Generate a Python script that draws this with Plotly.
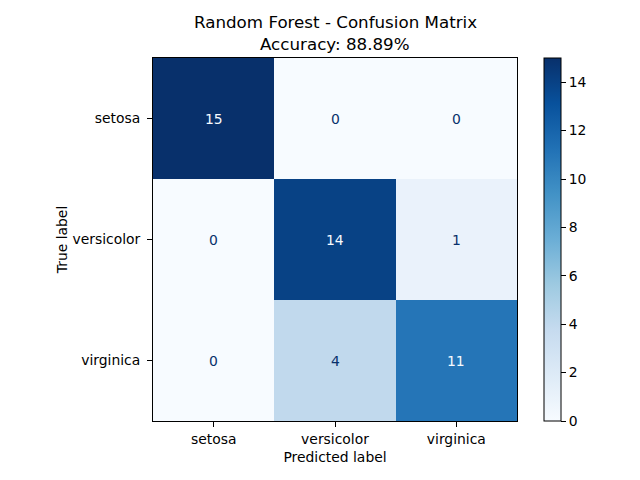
import plotly.graph_objects as go

labels = ["setosa", "versicolor", "virginica"]
matrix = [[15, 0, 0],
          [0, 14, 1],
          [0, 4, 11]]
title_lines = ["Random Forest - Confusion Matrix", "Accuracy: 88.89%"]
cbar_ticks = [0, 2, 4, 6, 8, 10, 12, 14]

blues = ["#f7fbff", "#deebf7", "#c6dbef", "#9ecae1", "#6baed6",
         "#4292c6", "#2171b5", "#08519c", "#08306b"]
colorscale = [[i / (len(blues) - 1), c] for i, c in enumerate(blues)]

vmin = min(min(r) for r in matrix)
vmax = max(max(r) for r in matrix)
thresh = (vmax + vmin) / 2

font = "DejaVu Sans"
OFF = 8  # page body margin offset
W, H = 640, 480
L, T = 153 - OFF, 58 - OFF
R = W - (517 - OFF)
B = H - (421 - OFF)
ph = H - T - B
pw = W - L - R

fig = go.Figure()
fig.add_trace(go.Heatmap(
    z=matrix, x=labels, y=labels, colorscale=colorscale,
    zmin=vmin, zmax=vmax, showscale=True,
    colorbar=dict(thickness=17, len=1, lenmode="fraction", x=(544 - OFF - L) / pw, xanchor="left",
                  xpad=0, ypad=0,
                  y=0.5, yanchor="middle", outlinecolor="black", outlinewidth=1,
                  tickvals=cbar_ticks, ticks="outside", ticklen=5, tickcolor="black",
                  tickfont=dict(family=font, size=13.9, color="black")),
    hoverinfo="skip"))

for i, row in enumerate(matrix):
    for j, v in enumerate(row):
        fig.add_annotation(x=labels[j], y=labels[i], text=str(v), showarrow=False,
                           font=dict(family=font, size=13.9,
                                     color="#f7fbff" if v > thresh else "#08306b"))

for k, (txt, ypx) in enumerate(zip(title_lines, [22, 44])):
    fig.add_annotation(xref="paper", yref="paper", x=0.5, y=1 + (T - (ypx - OFF)) / ph,
                       xanchor="center", yanchor="middle", text=txt, showarrow=False,
                       font=dict(family=font, size=16.7, color="black"))

fig.update_layout(
    width=W, height=H, paper_bgcolor="white", plot_bgcolor="white",
    margin=dict(l=L, r=R, t=T, b=B, autoexpand=False),
    font=dict(family=font, color="black"),
)
fig.update_xaxes(showline=True, linecolor="black", linewidth=1, mirror=True, automargin=False,
                 ticks="outside", ticklen=5, tickcolor="black",
                 tickfont=dict(size=13.9), title=dict(text="Predicted label", font=dict(size=13.9), standoff=6))
fig.update_yaxes(showline=True, linecolor="black", linewidth=1, mirror=True, automargin=False,
                 ticks="outside", ticklen=5, tickcolor="black", autorange="reversed",
                 ticklabelstandoff=4,
                 tickfont=dict(size=13.9), title=dict(text="True label", font=dict(size=13.9), standoff=1))

fig.write_html("out.html")
